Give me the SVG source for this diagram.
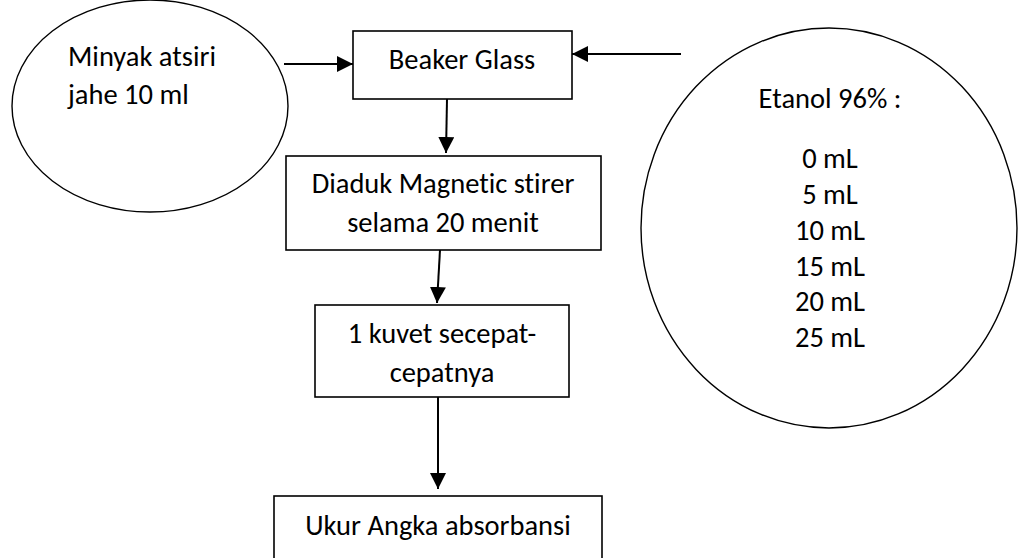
<svg xmlns="http://www.w3.org/2000/svg" width="1018" height="558" viewBox="0 0 1018 558">
<style>
  .shape { fill: #ffffff; stroke: #000000; stroke-width: 1.6; }
  .oval { fill: #ffffff; stroke: #000000; stroke-width: 1.4; }
  .label { font-family: Carlito, Calibri, Lato, "Liberation Sans", sans-serif; font-size: 28.5px; fill: #000000; font-variant-ligatures: none; }
  .mid { text-anchor: middle; }
  .edge { fill: none; stroke: #000000; stroke-width: 2; }
</style>
<defs>
  <marker id="arrow" viewBox="0 0 16 16" refX="16" refY="8" markerWidth="16" markerHeight="16" markerUnits="userSpaceOnUse" orient="auto">
    <path d="M0,0 L16,8 L0,16 Z" fill="#000000"/>
  </marker>
</defs>
<rect width="1018" height="558" fill="#ffffff"/>

<g id="node-minyak">
  <ellipse class="oval" cx="150" cy="106" rx="138" ry="106"/>
  <text class="label" x="68" y="66">Minyak atsiri</text>
  <text class="label" x="68" y="104">jahe 10 ml</text>
</g>

<g id="node-beaker">
  <rect class="shape" x="353" y="31" width="219" height="68"/>
  <text class="label mid" x="462" y="69">Beaker Glass</text>
</g>

<g id="node-etanol">
  <ellipse class="oval" cx="829" cy="228" rx="188" ry="200"/>
  <text class="label mid" x="830" y="108">Etanol 96% :</text>
  <text class="label mid" x="830" y="168">0 mL</text>
  <text class="label mid" x="830" y="204">5 mL</text>
  <text class="label mid" x="830" y="240">10 mL</text>
  <text class="label mid" x="830" y="276">15 mL</text>
  <text class="label mid" x="830" y="311">20 mL</text>
  <text class="label mid" x="830" y="347">25 mL</text>
</g>

<g id="node-diaduk">
  <rect class="shape" x="286" y="156" width="315" height="94"/>
  <text class="label mid" x="443" y="193">Diaduk Magnetic stirer</text>
  <text class="label mid" x="443" y="232">selama 20 menit</text>
</g>

<g id="node-kuvet">
  <rect class="shape" x="315" y="305" width="254" height="92"/>
  <text class="label mid" x="442" y="343">1 kuvet secepat-</text>
  <text class="label mid" x="442" y="382">cepatnya</text>
</g>

<g id="node-ukur">
  <rect class="shape" x="274" y="496" width="328" height="80"/>
  <text class="label mid" x="438" y="535">Ukur Angka absorbansi</text>
</g>

<g id="connectors">
  <line class="edge" x1="284" y1="64" x2="353" y2="64" marker-end="url(#arrow)"/>
  <line class="edge" x1="681" y1="54" x2="572" y2="54" marker-end="url(#arrow)"/>
  <line class="edge" x1="447" y1="99" x2="446" y2="153" marker-end="url(#arrow)"/>
  <line class="edge" x1="440" y1="250" x2="437" y2="303" marker-end="url(#arrow)"/>
  <line class="edge" x1="438" y1="397" x2="438" y2="489" marker-end="url(#arrow)"/>
</g>
</svg>
